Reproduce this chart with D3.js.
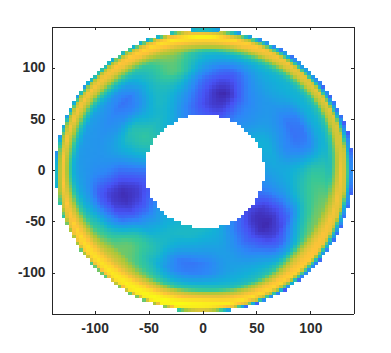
<!DOCTYPE html>
<html>
<head>
<meta charset="utf-8">
<script src="https://cdn.jsdelivr.net/npm/d3@7"></script>
<style>
  html, body { margin: 0; background: #fff; }
  .axis text { font-family: "Liberation Sans", Arial, sans-serif; font-size: 13.8px; font-weight: bold; fill: #2b2b2b; }
  .axis path, .axis line { stroke: #262626; stroke-width: 1px; shape-rendering: crispEdges; }
</style>
</head>
<body>
<script>
var xTicks = [-100, -50, 0, 50, 100];
var yTicks = [-100, -50, 0, 50, 100];
var tickLabels = {"-100": "-100", "-50": "-50", "0": "0", "50": "50", "100": "100"};

// parula colours and the value each one sits at
var parula = ["#3e26a8", "#4752f4", "#2d87f7", "#12b1d6", "#37c897", "#abc739", "#fec338", "#f9fb14"];
var parulaStops = [0, 0.09, 0.22, 0.38, 0.53, 0.67, 0.875, 1];

// values (0 = darkest, 1 = yellow), one row per ring, one column per angle
var ringRadii = [55, 65, 78, 90, 100, 110, 116, 121, 126, 131, 135, 138, 141];
var angles = [0, 15, 30, 45, 60, 75, 90, 105, 120, 135, 150, 165, 180, 195, 210, 225, 240, 255, 270, 285, 300, 315, 330, 345];
var r55  = [.30,.35,.38,.30,.22,.10,.12,.20,.33,.42,.48,.38,.18,.10,.18,.32,.38,.42,.42,.35,.20,.08,.12,.22];
var r65  = [.33,.36,.36,.28,.20,.05,.08,.22,.38,.44,.50,.38,.17,.05,.10,.28,.40,.42,.38,.33,.15,.03,.07,.25];
var r78  = [.36,.24,.27,.28,.20,.01,.10,.30,.42,.36,.46,.36,.16,.02,.08,.33,.42,.33,.30,.30,.14,.01,.08,.30];
var r90  = [.42,.20,.18,.28,.25,.07,.16,.42,.42,.22,.27,.30,.22,.05,.14,.50,.45,.20,.20,.30,.20,.06,.15,.42];
var r100 = [.50,.22,.20,.33,.30,.14,.28,.56,.42,.18,.23,.27,.24,.12,.30,.58,.44,.22,.22,.32,.30,.15,.38,.52];
var r110 = [.50,.36,.36,.38,.36,.30,.38,.58,.45,.27,.28,.28,.28,.30,.48,.60,.52,.38,.38,.38,.40,.35,.55,.58];
var r116 = [.45,.40,.40,.40,.42,.42,.44,.62,.50,.42,.33,.30,.30,.38,.55,.70,.62,.52,.52,.45,.48,.60,.62,.60];
var r121 = [.62,.52,.48,.52,.58,.62,.68,.70,.65,.60,.48,.42,.38,.50,.68,.78,.78,.76,.78,.68,.68,.78,.78,.72];
var r126 = [.85,.76,.72,.76,.80,.85,.87,.87,.85,.80,.72,.66,.62,.72,.85,.90,.92,.92,.93,.87,.87,.87,.87,.85];
var r131 = [.75,.78,.82,.84,.87,.92,.98,.95,.90,.87,.87,.86,.88,.88,.93,.95,.98,1.0,1.0,.95,.92,.90,.84,.78];
var r135 = [.30,.32,.35,.40,.50,.66,.80,.82,.70,.66,.70,.64,.62,.75,.88,.90,.95,.98,.90,.80,.62,.52,.42,.32];
var r138 = [.14,.10,.08,.12,.16,.26,.34,.36,.34,.30,.30,.25,.30,.45,.55,.55,.55,.50,.35,.15,.10,.12,.12,.12];
var r141 = [.12,.08,.06,.10,.12,.18,.20,.22,.22,.20,.20,.18,.20,.30,.40,.40,.40,.30,.22,.10,.08,.10,.10,.10];
var rings = [r55, r65, r78, r90, r100, r110, r116, r121, r126, r131, r135, r138, r141];

var ringCenter = [1.5, -0.5], holeCenter = [1.75, -1];
var innerRadius = 55.5, outerRadius = 138;
var cellStep = 3.25, gridStartX = -140.25, gridStartY = -141;

var margin = {top: 26.5, right: 37.5, bottom: 39.5, left: 51.5},
    width  = 391 - margin.left - margin.right,
    height = 353 - margin.top - margin.bottom;

var x = d3.scaleLinear().domain([-140, 140]).range([0, width]);
var y = d3.scaleLinear().domain([-140, 140]).range([height, 0]);

var color = d3.scaleLinear()
    .domain(parulaStops)
    .range(parula)
    .clamp(true);

//shading between the read values: smooth around the ring, straight across rings
function catmull(a, b, c, d, t) {
  return 0.5 * (2*b + (c-a)*t + (2*a - 5*b + 4*c - d)*t*t + (3*b - a - 3*c + d)*t*t*t);
}
function ringValue(row, deg) {
  var n = angles.length, f = deg / 15, j = Math.floor(f) % n;
  return catmull(row[(j+n-1)%n], row[j], row[(j+1)%n], row[(j+2)%n], f - Math.floor(f));
}
function shade(r, deg) {
  var i = Math.max(0, d3.bisectRight(ringRadii, r) - 1);
  if (i >= ringRadii.length - 1) i = ringRadii.length - 2;
  var t = (r - ringRadii[i]) / (ringRadii[i+1] - ringRadii[i]);
  return ringValue(rings[i], deg) * (1-t) + ringValue(rings[i+1], deg) * t;
}

var cells = [];
d3.range(gridStartX, 142, cellStep).forEach(function(cx) {
  d3.range(gridStartY, 142, cellStep).forEach(function(cy) {
    var mx = cx + cellStep/2, my = cy + cellStep/2;
    var dx = mx - ringCenter[0], dy = my - ringCenter[1];
    var r = Math.sqrt(dx*dx + dy*dy);
    var hole = Math.sqrt(Math.pow(mx - holeCenter[0], 2) + Math.pow(my - holeCenter[1], 2));
    if (hole < innerRadius || r > outerRadius) return;
    var deg = (Math.atan2(dy, dx) * 180 / Math.PI + 360) % 360;
    cells.push({x: cx, y: cy, v: shade(r, deg)});
  });
});

var svg = d3.select("body").append("svg")
    .attr("width", 391)
    .attr("height", 353)
    .style("display", "block")
  .append("g")
    .attr("transform", "translate(" + margin.left + "," + margin.top + ")");

svg.append("clipPath").attr("id", "plot-clip")
  .append("rect").attr("width", width).attr("height", height);

svg.append("g")
    .attr("clip-path", "url(#plot-clip)")
    .attr("shape-rendering", "crispEdges")
  .selectAll("rect")
    .data(cells)
  .enter().append("rect")
    .attr("x", function(d) { return x(d.x); })
    .attr("y", function(d) { return y(d.y + cellStep); })
    .attr("width", x(cellStep) - x(0) + 0.5)
    .attr("height", y(0) - y(cellStep) + 0.5)
    .attr("fill", function(d) { return color(d.v); });

function fmt(d) { return tickLabels[d]; }

svg.append("g").attr("class", "axis")
    .attr("transform", "translate(0," + height + ")")
    .call(d3.axisBottom(x).tickValues(xTicks).tickFormat(fmt).tickSizeInner(-3).tickSizeOuter(0).tickPadding(10));
svg.append("g").attr("class", "axis")
    .call(d3.axisLeft(y).tickValues(yTicks).tickFormat(fmt).tickSizeInner(-3).tickSizeOuter(0).tickPadding(6));
svg.append("g").attr("class", "axis")
    .call(d3.axisTop(x).tickValues(xTicks).tickFormat("").tickSizeInner(-3).tickSizeOuter(0));
svg.append("g").attr("class", "axis")
    .attr("transform", "translate(" + width + ",0)")
    .call(d3.axisRight(y).tickValues(yTicks).tickFormat("").tickSizeInner(-3).tickSizeOuter(0));
</script>
</body>
</html>
